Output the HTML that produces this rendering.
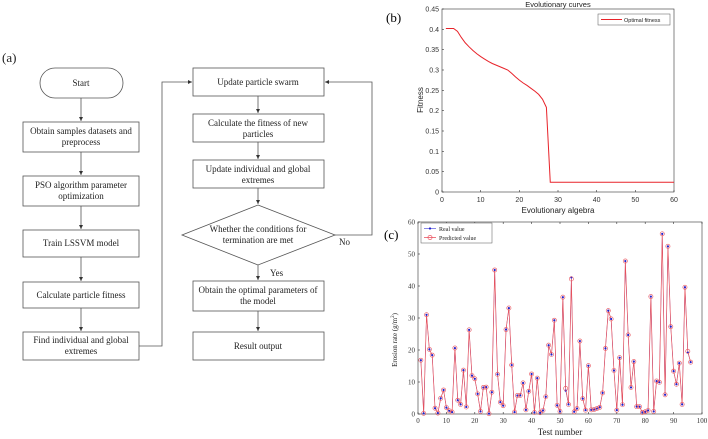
<!DOCTYPE html>
<html><head><meta charset="utf-8">
<style>
body{margin:0;background:#fff;}
svg{display:block;font-family:"Liberation Serif",serif;}
.ar{font-family:"Liberation Sans",sans-serif;}
</style></head>
<body>
<svg id="s" width="708" height="439" viewBox="0 0 708 439" xmlns="http://www.w3.org/2000/svg">
<defs><marker id="ah" markerWidth="6" markerHeight="6" refX="5" refY="3" orient="auto"><path d="M0,0.5 L5,3 L0,5.5z" fill="#333"/></marker></defs>
<g font-size="9" fill="#222" stroke="#555" stroke-width="0.8">
<text x="2" y="62" font-size="13" stroke="none">(a)</text>
<rect x="40" y="68" width="83" height="30" rx="15" fill="#fff"/>
<text x="81" y="86" text-anchor="middle" stroke="none">Start</text>
<rect x="23" y="122" width="116" height="30" fill="#fff"/>
<text x="81" y="134" text-anchor="middle" stroke="none">Obtain samples datasets and</text><text x="81" y="145" text-anchor="middle" stroke="none">preprocess</text>
<rect x="23" y="176" width="116" height="30" fill="#fff"/>
<text x="81" y="188" text-anchor="middle" stroke="none">PSO algorithm parameter</text><text x="81" y="199" text-anchor="middle" stroke="none">optimization</text>
<rect x="23" y="230" width="116" height="27" fill="#fff"/>
<text x="81" y="246" text-anchor="middle" stroke="none">Train LSSVM model</text>
<rect x="23" y="282" width="116" height="26" fill="#fff"/>
<text x="81" y="298" text-anchor="middle" stroke="none">Calculate particle fitness</text>
<rect x="23" y="332" width="116" height="28" fill="#fff"/>
<text x="81" y="343" text-anchor="middle" stroke="none">Find individual and global</text><text x="81" y="354" text-anchor="middle" stroke="none">extremes</text>
<g fill="none" marker-end="url(#ah)">
<line x1="81" y1="98" x2="81" y2="121"/><line x1="81" y1="152" x2="81" y2="175"/><line x1="81" y1="206" x2="81" y2="229"/><line x1="81" y1="257" x2="81" y2="281"/><line x1="81" y1="308" x2="81" y2="331"/>
<path d="M139,346 H162 V82 H192"/>
<line x1="258" y1="96" x2="258" y2="113"/><line x1="258" y1="142" x2="258" y2="159"/><line x1="258" y1="188" x2="258" y2="204"/><line x1="258" y1="265" x2="258" y2="280"/><line x1="258" y1="311" x2="258" y2="331"/>
<path d="M335,235 H372 V82 H325"/>
</g>
<rect x="193" y="68" width="131" height="28" fill="#fff"/>
<text x="258" y="85" text-anchor="middle" stroke="none">Update particle swarm</text>
<rect x="193" y="114" width="131" height="28" fill="#fff"/>
<text x="258" y="126" text-anchor="middle" stroke="none">Calculate the fitness of new</text><text x="258" y="137" text-anchor="middle" stroke="none">particles</text>
<rect x="193" y="160" width="131" height="28" fill="#fff"/>
<text x="258" y="172" text-anchor="middle" stroke="none">Update individual and global</text><text x="258" y="183" text-anchor="middle" stroke="none">extremes</text>
<polygon points="258,205 335,235 258,265 182,235" fill="#fff"/>
<text x="258" y="232" text-anchor="middle" stroke="none">Whether the conditions for</text><text x="258" y="243" text-anchor="middle" stroke="none">termination are met</text>
<text x="339" y="245" stroke="none">No</text><text x="270" y="276" stroke="none">Yes</text>
<rect x="193" y="281" width="131" height="30" fill="#fff"/>
<text x="258" y="293" text-anchor="middle" stroke="none">Obtain the optimal parameters of</text><text x="258" y="304" text-anchor="middle" stroke="none">the model</text>
<rect x="193" y="332" width="131" height="28" fill="#fff"/>
<text x="258" y="349" text-anchor="middle" stroke="none">Result output</text>
</g>
<text x="386" y="22" font-size="13">(b)</text>
<text x="384" y="239" font-size="13">(c)</text>
<g id="gb"></g><g id="gc"></g>
</svg>
<script>
const fitGen=[];for(let i=1;i<=60;i++)fitGen.push(i);
const fitVals=[0.402,0.402,0.402,0.395,0.38,0.367,0.357,0.348,0.340,0.333,0.327,0.321,0.316,0.312,0.308,0.304,0.300,0.292,0.283,0.275,0.268,0.262,0.255,0.248,0.240,0.228,0.208,0.024,0.024,0.024,0.024,0.024,0.024,0.024,0.024,0.024,0.024,0.024,0.024,0.024,0.024,0.024,0.024,0.024,0.024,0.024,0.024,0.024,0.024,0.024,0.024,0.024,0.024,0.024,0.024,0.024,0.024,0.024,0.024,0.024];
const bXTicks=[0,10,20,30,40,50,60];
const bYTicks=[0,0.05,0.1,0.15,0.2,0.25,0.3,0.35,0.4,0.45];
const realVals=[16.8,0.2,31,20.2,18.4,1.8,0.3,4.9,7.5,2.0,1.0,0.6,20.6,4.3,3.0,13.7,2.2,26.3,12,11,6.3,0.8,8.3,8.4,0.1,6.8,45,12.4,3.7,2.6,26.4,33.1,15.3,0.6,5.8,5.8,9.7,1.3,7.1,12.5,0.5,11.2,0.4,1.1,5.4,21.5,18.6,29.3,2.7,0.8,36.5,7.3,3.0,42.7,0.7,1.7,22.8,4.8,1.2,15.1,1.3,1.4,1.7,2.1,6.6,20.5,32.3,29.7,13.6,1.2,17.6,2.9,47.8,24.7,8.3,16.4,2.3,2.3,0.5,0.7,1.1,36.7,0.8,10.3,9.9,56.3,6,52.4,27.3,13.4,9.3,15.9,3.0,39.6,19.2,16.2];
const predVals=[16.8,0.2,31,20.2,18.4,1.8,0.3,4.9,7.5,2.0,1.0,0.6,20.6,4.3,3.0,13.7,2.2,26.3,12,11,6.3,0.8,8.3,8.4,0.1,6.8,45,12.4,3.7,2.6,26.4,33.1,15.3,0.6,5.8,5.8,9.7,1.3,7.1,12.5,0.5,11.2,0.4,1.1,5.4,21.5,18.6,29.3,2.7,0.8,36.5,8.0,3.0,42.2,0.7,1.7,22.8,4.8,1.2,15.1,1.3,1.4,1.7,2.1,6.6,20.5,32.3,29.7,13.6,1.2,17.6,2.9,47.8,24.7,8.3,16.4,2.3,2.3,0.5,0.7,1.1,36.7,0.8,10.3,9.9,56.3,6,52.4,27.3,13.4,9.3,15.9,3.0,39.6,19.6,16.2];
const cXTicks=[0,10,20,30,40,50,60,70,80,90,100];
const cYTicks=[0,10,20,30,40,50,60];
const NS="http://www.w3.org/2000/svg";
function mk(p,t,a){const e=document.createElementNS(NS,t);for(const k in a)e.setAttribute(k,a[k]);p.appendChild(e);return e;}
// chart b
const gb=document.getElementById('gb');

const bx=v=>442+(v-0)/60*232, by=v=>192-v/0.45*183;
gb.setAttribute('class','ar');gb.setAttribute('font-size','7');
mk(gb,'rect',{x:442,y:9,width:232,height:183,fill:'#fff',stroke:'#333','stroke-width':0.6});
bXTicks.forEach(t=>{mk(gb,'line',{x1:bx(t),x2:bx(t),y1:192,y2:190,stroke:'#333','stroke-width':0.6});const e=mk(gb,'text',{x:bx(t),y:202,'text-anchor':'middle',fill:'#333'});e.textContent=t;});
bYTicks.forEach(t=>{mk(gb,'line',{x1:442,x2:444,y1:by(t),y2:by(t),stroke:'#333','stroke-width':0.6});const e=mk(gb,'text',{x:439,y:by(t)+2.5,'text-anchor':'end',fill:'#333'});e.textContent=+t.toFixed(2);});
let d='';fitGen.forEach((g,i)=>{d+=(i?'L':'M')+bx(g)+','+by(fitVals[i]);});
const fl=mk(gb,'path',{d:d,fill:'none',stroke:'#e8232a','stroke-width':1});

let t=mk(gb,'text',{x:558,y:7,'text-anchor':'middle','font-size':7.5,fill:'#222'});t.textContent='Evolutionary curves';

t=mk(gb,'text',{x:558,y:213,'text-anchor':'middle','font-size':8,fill:'#222'});t.textContent='Evolutionary algebra';

t=mk(gb,'text',{x:423,y:100,'text-anchor':'middle','font-size':8,fill:'#222',transform:'rotate(-90 423 100)'});t.textContent='Fitness';

const lb=mk(gb,'g',{});
mk(lb,'rect',{x:598,y:14,width:72,height:11,fill:'#fff',stroke:'#555','stroke-width':0.5});
mk(lb,'line',{x1:601,x2:622,y1:19.5,y2:19.5,stroke:'#e8232a','stroke-width':1});
t=mk(lb,'text',{x:624,y:22,'font-size':5.5,fill:'#222'});t.textContent='Optimal fitness';
// chart c
const gc=document.getElementById('gc');

const cx=v=>418+v/100*284, cy=v=>414-v/60*192;
mk(gc,'rect',{x:418,y:222,width:284,height:192,fill:'#fff',stroke:'#333','stroke-width':0.6});
cXTicks.forEach(v=>{mk(gc,'line',{x1:cx(v),x2:cx(v),y1:414,y2:412,stroke:'#333','stroke-width':0.6});mk(gc,'line',{x1:cx(v),x2:cx(v),y1:222,y2:224,stroke:'#333','stroke-width':0.6});const e=mk(gc,'text',{x:cx(v),y:423,'text-anchor':'middle','font-size':7,fill:'#333'});e.textContent=v;});
cYTicks.forEach(v=>{mk(gc,'line',{x1:418,x2:420,y1:cy(v),y2:cy(v),stroke:'#333','stroke-width':0.6});const e=mk(gc,'text',{x:415,y:cy(v)+2.5,'text-anchor':'end','font-size':7,fill:'#333'});e.textContent=v;});
let dr='',dp='';realVals.forEach((v,i)=>{dr+=(i?'L':'M')+cx(i+1)+','+cy(v);});predVals.forEach((v,i)=>{dp+=(i?'L':'M')+cx(i+1)+','+cy(v);});
const rl=mk(gc,'path',{d:dr,fill:'none',stroke:'#6666dd','stroke-width':0.5});

const pl=mk(gc,'path',{d:dp,fill:'none',stroke:'#e8505a','stroke-width':0.7});

realVals.forEach((v,i)=>{const c=mk(gc,'circle',{cx:cx(i+1),cy:cy(v),r:1.1,fill:'#2222cc'});});
predVals.forEach((v,i)=>{const c=mk(gc,'circle',{cx:cx(i+1),cy:cy(v),r:2.1,fill:'none',stroke:'#e8505a','stroke-width':0.6});});
t=mk(gc,'text',{x:560,y:435,'text-anchor':'middle','font-size':9,fill:'#222'});t.textContent='Test number';

t=mk(gc,'text',{x:397,y:340,'text-anchor':'middle','font-size':7,fill:'#222',transform:'rotate(-90 397 340)'});t.innerHTML='Erosion rate (g/m<tspan font-size="5" dy="-3">2</tspan><tspan dy="3">)</tspan>';

const lc=mk(gc,'g',{});
mk(lc,'rect',{x:421,y:223,width:71,height:20,fill:'#fff',stroke:'#555','stroke-width':0.5});
mk(lc,'line',{x1:424,x2:436,y1:228.5,y2:228.5,stroke:'#5555dd','stroke-width':0.7});
mk(lc,'circle',{cx:430,cy:228.5,r:1.1,fill:'#2222cc'});
t=mk(lc,'text',{x:439,y:231,'font-size':6,fill:'#222'});t.textContent='Real value';
mk(lc,'line',{x1:424,x2:436,y1:237.5,y2:237.5,stroke:'#e84050','stroke-width':0.7});
mk(lc,'circle',{cx:430,cy:237.5,r:2.1,fill:'none',stroke:'#e84050','stroke-width':0.6});
t=mk(lc,'text',{x:439,y:240,'font-size':6,fill:'#222'});t.textContent='Predicted value';
</script>
</body></html>
